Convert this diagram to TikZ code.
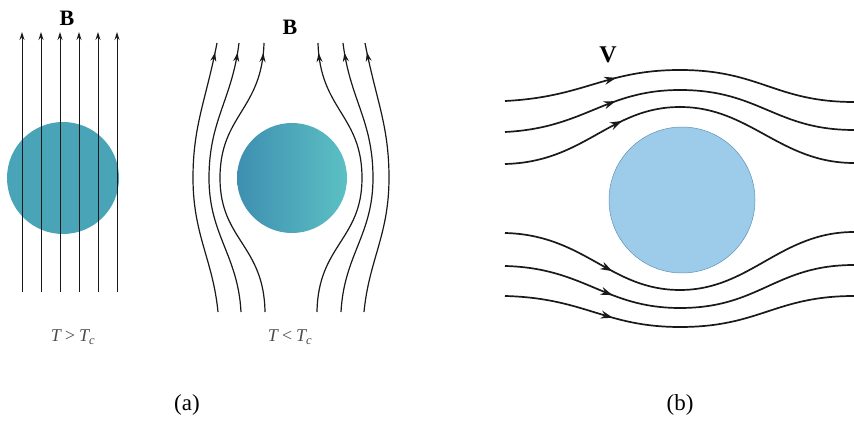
\documentclass[tikz,border=0pt]{standalone}
\usepackage{fontspec}
\setmainfont{Liberation Serif}
\usetikzlibrary{arrows.meta,decorations.markings}
\begin{document}
\begin{tikzpicture}[x=1pt,y=-1pt,
  fieldline/.style={line width=1.0pt, draw=black!90, -{Stealth[length=8pt,width=5pt]}},
  curvefield/.style={line width=1.2pt, draw=black!90, postaction={decorate},
    decoration={markings, mark=at position 0.965 with {\arrow{Stealth[length=9pt,width=6pt]}}}},
  stream/.style={line width=1.7pt, draw=black!90, postaction={decorate},
    decoration={markings, mark=at position #1 with {\arrow{Stealth[length=12pt,width=8pt]}}}},
  lbl/.style={font=\fontsize{22}{24}\selectfont\bfseries, inner sep=0pt},
  tlbl/.style={font=\fontsize{18}{20}\selectfont\itshape, text=black!70, inner sep=0pt},
  captxt/.style={font=\fontsize{23}{25}\selectfont, inner sep=0pt}
]
\useasboundingbox (0,0) rectangle (854,427);
\definecolor{teal1}{HTML}{4AA4B7}
\definecolor{tealL}{HTML}{3E8FB0}
\definecolor{tealR}{HTML}{5CC0C4}
\definecolor{sky}{HTML}{9DCBEA}
\definecolor{skyb}{HTML}{5E93B8}

% ---- panel (a), T > Tc
\fill[teal1] (63,178) circle[radius=56];
\foreach \x in {22,41,60,79,98,117}{
  \draw[fieldline] (\x,292) -- (\x,32);
}
\node[lbl] (B1) at (67,18) {B};
\node[tlbl] (T1) at (73,337) {T\,>\,T\textsubscript{c}};

% ---- panel (a), T < Tc
\shade[left color=tealL, right color=tealR] (292,178) circle[radius=55];
% left lines
\draw[curvefield] (218,312) .. controls (213,260) and (193,235) .. (193,178) .. controls (193,125) and (206,100) .. (217,43);
\draw[curvefield] (241,312) .. controls (238,255) and (209,235) .. (209,178) .. controls (209,120) and (232,100) .. (239,43);
\draw[curvefield] (265,312) .. controls (264,245) and (220,240) .. (220,178) .. controls (220,115) and (262,110) .. (264,43);
% right lines
\draw[curvefield] (317,312) .. controls (318,245) and (362,240) .. (362,178) .. controls (362,115) and (320,110) .. (318,43);
\draw[curvefield] (341,312) .. controls (344,255) and (373,235) .. (373,178) .. controls (373,120) and (350,100) .. (343,43);
\draw[curvefield] (364,312) .. controls (369,260) and (389,235) .. (389,178) .. controls (389,125) and (376,100) .. (365,43);
\node[lbl] (B2) at (290,27) {B};
\node[tlbl] (T2) at (290,337) {T\,<\,T\textsubscript{c}};
\node[captxt] (ca) at (187,405) {(a)};

% ---- panel (b)
\fill[sky] (682,200) circle[radius=73];
\draw[skyb, line width=0.5pt] (682,200) circle[radius=73];
\draw[stream=0.32] (505,101) .. controls (585,97) and (605,70) .. (680,70) .. controls (760,70) and (775,102) .. (854,102);
\draw[stream=0.32] (505,132) .. controls (585,128) and (605,90) .. (680,90) .. controls (760,90) and (775,130) .. (854,130);
\draw[stream=0.34] (505,164) .. controls (585,162) and (610,107) .. (680,107) .. controls (750,107) and (780,163) .. (854,163);
\draw[stream=0.31] (505,233) .. controls (585,235) and (610,290) .. (680,290) .. controls (750,290) and (780,232) .. (854,232);
\draw[stream=0.31] (505,266) .. controls (585,268) and (605,308) .. (680,308) .. controls (760,308) and (775,265) .. (854,265);
\draw[stream=0.31] (505,296) .. controls (585,298) and (605,327) .. (680,327) .. controls (760,327) and (775,296) .. (854,296);
\node[lbl, font=\fontsize{24}{26}\selectfont\bfseries] (V) at (608,55) {V};
\node[captxt] (cb) at (680,405) {(b)};
\end{tikzpicture}
\end{document}
